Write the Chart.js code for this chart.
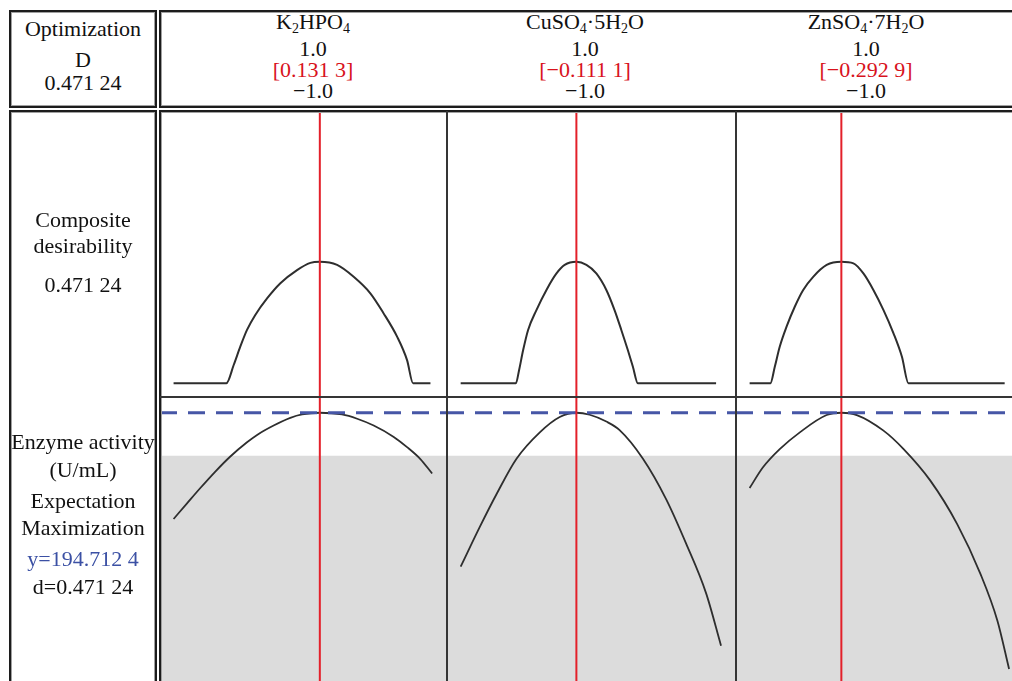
<!DOCTYPE html>
<html>
<head>
<title>Optimization plot</title>
<script src="https://cdn.jsdelivr.net/npm/chart.js@4.4.1/dist/chart.umd.min.js"></script>
<style>
body { margin: 0; background: #fff; font-family: "Liberation Serif", "Times New Roman", serif; }
#page { position: relative; width: 1012px; height: 681px; overflow: hidden; background: #fff; }
.box { position: absolute; border: 2px solid #1c1c1c; box-shadow: inset 0 0 0 1px #a0a0a0; box-sizing: border-box; z-index: 2; }
.rule { position: absolute; background: #353535; z-index: 2; }
canvas { position: absolute; z-index: 1; }
.txt { position: absolute; width: 220px; font-size: 22px; line-height: 24px; height: 24px; text-align: center; color: #111; white-space: nowrap; z-index: 3; }
.red { color: #d8121c; }
.blue { color: #3b50a4; }
sub { font-size: 14px; line-height: 0; vertical-align: -4px; }
</style>
</head>
<body>
<div id="page">
    <div class="box" style="left:9px; top:10px; width:148px; height:98px;"></div>
    <div class="box" style="left:159px; top:10px; width:870px; height:98px;"></div>
    <div class="box" style="left:9px; top:110px; width:148px; height:590px;"></div>
    <div class="box" style="left:159px; top:110px; width:870px; height:590px;"></div>
    <div class="rule" style="left:446px; top:111px; width:2px; height:580px;"></div>
    <div class="rule" style="left:735px; top:111px; width:2px; height:580px;"></div>
    <div class="rule" style="left:160px; top:396px; width:860px; height:2px;"></div>

    <!-- left column -->
    <div class="txt" style="left:-27px; top:17px;">Optimization</div>
    <div class="txt" style="left:-27px; top:48px;">D</div>
    <div class="txt" style="left:-27px; top:71px;" id="dHead"></div>

    <div class="txt" style="left:-27px; top:208px;">Composite</div>
    <div class="txt" style="left:-27px; top:234px;">desirability</div>
    <div class="txt" style="left:-27px; top:273px;" id="dComp"></div>

    <div class="txt" style="left:-27px; top:430px;">Enzyme activity</div>
    <div class="txt" style="left:-27px; top:458px;">(U/mL)</div>
    <div class="txt" style="left:-27px; top:489px;">Expectation</div>
    <div class="txt" style="left:-27px; top:516px;">Maximization</div>
    <div class="txt blue" style="left:-27px; top:547px;" id="yVal"></div>
    <div class="txt" style="left:-27px; top:575px;" id="dVal"></div>
</div>

<script>
// factors, settings
const factorNames = ['K<sub>2</sub>HPO<sub>4</sub>', 'CuSO<sub>4</sub>·5H<sub>2</sub>O', 'ZnSO<sub>4</sub>·7H<sub>2</sub>O'];
const factorHigh = [1.0, 1.0, 1.0];
const factorLow = [-1.0, -1.0, -1.0];
const optimum = [0.1313, -0.1111, -0.2929];
const compositeD = 0.47124;
const predictedY = 194.7124;
const enzymeLowerLimit = 179.6;

// composite desirability curves
const k2hpo4DesX = [-1.0, -0.592, -0.535, -0.484, -0.432, -0.368, -0.277, -0.174, -0.045, 0.058, 0.1313, 0.265, 0.393, 0.522, 0.625, 0.729, 0.806, 0.853, 0.987];
const k2hpo4DesD = [0, 0, 0.071, 0.142, 0.207, 0.265, 0.329, 0.388, 0.439, 0.467, 0.47124, 0.459, 0.413, 0.349, 0.271, 0.181, 0.09, 0, 0];
const cuso4DesX = [-1.0, -0.576, -0.551, -0.520, -0.482, -0.418, -0.341, -0.264, -0.201, -0.1111, -0.034, 0.042, 0.119, 0.182, 0.234, 0.284, 0.323, 0.361, 0.962];
const cuso4DesD = [0, 0, 0.052, 0.129, 0.207, 0.284, 0.362, 0.426, 0.459, 0.47124, 0.459, 0.426, 0.362, 0.284, 0.207, 0.129, 0.064, 0, 0];
const znso4DesX = [-1.0, -0.840, -0.806, -0.768, -0.716, -0.652, -0.587, -0.510, -0.406, -0.2929, -0.200, -0.123, -0.046, 0.032, 0.109, 0.174, 0.225, 0.966];
const znso4DesD = [0, 0, 0.064, 0.142, 0.219, 0.297, 0.362, 0.413, 0.459, 0.47124, 0.465, 0.426, 0.362, 0.284, 0.194, 0.103, 0, 0];

// enzyme activity curves (U/mL)
const k2hpo4EnzX = [-1.0, -0.896, -0.793, -0.677, -0.561, -0.432, -0.354, -0.226, -0.097, -0.006, 0.1313, 0.303, 0.42, 0.548, 0.703, 0.806, 0.909, 1.0];
const k2hpo4EnzY = [157.3, 162.8, 168.2, 174.0, 179.3, 184.3, 186.9, 190.2, 192.9, 194.1, 194.71, 194.1, 192.6, 190.2, 186.2, 182.6, 178.4, 173.3];
const cuso4EnzX = [-1.0, -0.853, -0.725, -0.571, -0.392, -0.239, -0.1111, -0.009, 0.119, 0.221, 0.399, 0.579, 0.732, 0.885, 1.0];
const cuso4EnzY = [140.5, 154.5, 166.0, 178.5, 187.8, 193.2, 194.71, 194.0, 191.6, 188.6, 178.6, 164.2, 148.6, 131.2, 112.7];
const znso4EnzX = [-1.0, -0.897, -0.768, -0.613, -0.406, -0.2929, -0.174, 0.032, 0.187, 0.393, 0.6, 0.78, 0.91, 1.0];
const znso4EnzY = [168.2, 175.5, 181.9, 187.8, 193.9, 194.71, 193.9, 188.4, 181.9, 170.8, 155.5, 137.9, 121.5, 104.5];

const desCurves = [[k2hpo4DesX, k2hpo4DesD], [cuso4DesX, cuso4DesD], [znso4DesX, znso4DesD]];
const enzCurves = [[k2hpo4EnzX, k2hpo4EnzY], [cuso4EnzX, cuso4EnzY], [znso4EnzX, znso4EnzY]];

// layout
const X_MIN = -1.105, X_MAX = 1.115;
const DES_MIN = -0.053, DES_MAX = 1.052;
const ENZ_MIN = 100.25, ENZ_MAX = 200.25;
const panelLeft = [160, 447, 736];
const panelWidth = [287, 289, 288];
const textCenter = [313, 585, 866];

const page = document.getElementById('page');

// 0.47124 -> "0.471 24", minus as U+2212
function fmt(v, dec) {
    let s = Math.abs(v).toFixed(dec);
    let parts = s.split('.');
    if (parts[1] && parts[1].length > 3) parts[1] = parts[1].slice(0, 3) + ' ' + parts[1].slice(3);
    return (v < 0 ? '\u2212' : '') + parts.join('.');
}

document.getElementById('dHead').textContent = fmt(compositeD, 5);
document.getElementById('dComp').textContent = fmt(compositeD, 5);
document.getElementById('yVal').textContent = 'y=' + fmt(predictedY, 4);
document.getElementById('dVal').textContent = 'd=' + fmt(compositeD, 5);

function addText(html, cx, cy, cls) {
    const d = document.createElement('div');
    d.className = 'txt' + (cls ? ' ' + cls : '');
    d.style.left = (cx - 110) + 'px';
    d.style.top = (cy - 12) + 'px';
    d.innerHTML = html;
    page.appendChild(d);
}

function pts(xs, ys) {
    return xs.map((x, i) => ({ x: x, y: ys[i] }));
}

function makeChart(left, top, w, h, yMin, yMax, datasets) {
    const c = document.createElement('canvas');
    c.width = w; c.height = h;
    c.style.left = left + 'px'; c.style.top = top + 'px';
    c.style.width = w + 'px'; c.style.height = h + 'px';
    page.appendChild(c);
    return new Chart(c, {
        type: 'line',
        data: { datasets: datasets },
        options: {
            responsive: false,
            animation: false,
            devicePixelRatio: 1,
            layout: { padding: 0 },
            plugins: { legend: { display: false }, tooltip: { enabled: false } },
            elements: { point: { radius: 0 } },
            scales: {
                x: { type: 'linear', min: X_MIN, max: X_MAX, display: false },
                y: { type: 'linear', min: yMin, max: yMax, display: false }
            }
        }
    });
}

for (let i = 0; i < 3; i++) {
    // header texts
    addText(factorNames[i], textCenter[i], 22);
    addText(factorHigh[i].toFixed(1), textCenter[i], 49);
    addText('[' + fmt(optimum[i], 4) + ']', textCenter[i], 70, 'red');
    addText(fmt(factorLow[i], 1), textCenter[i], 91);

    // composite desirability row
    makeChart(panelLeft[i], 112, panelWidth[i], 285, DES_MIN, DES_MAX, [
        {
            data: [{ x: optimum[i], y: DES_MIN }, { x: optimum[i], y: DES_MAX }],
            borderColor: '#e3202a', borderWidth: 2, order: 0
        },
        {
            data: pts(desCurves[i][0], desCurves[i][1]),
            borderColor: '#2e2e2e', borderWidth: 2, cubicInterpolationMode: 'monotone', order: 1
        }
    ]);

    // enzyme activity row
    makeChart(panelLeft[i], 397, panelWidth[i], 284, ENZ_MIN, ENZ_MAX, [
        {
            data: [{ x: optimum[i], y: ENZ_MIN }, { x: optimum[i], y: ENZ_MAX }],
            borderColor: '#e3202a', borderWidth: 2, order: 0
        },
        {
            data: [{ x: X_MIN, y: predictedY }, { x: X_MAX, y: predictedY }],
            borderColor: '#4656a6', borderWidth: 3, borderDash: [17, 11], order: 1
        },
        {
            data: pts(enzCurves[i][0], enzCurves[i][1]),
            borderColor: '#2e2e2e', borderWidth: 1.8, cubicInterpolationMode: 'monotone', order: 2
        },
        {
            data: [{ x: X_MIN, y: enzymeLowerLimit }, { x: X_MAX, y: enzymeLowerLimit }],
            borderWidth: 0, backgroundColor: '#dcdcdc', fill: 'start', order: 5
        }
    ]);
}
</script>
</body>
</html>
